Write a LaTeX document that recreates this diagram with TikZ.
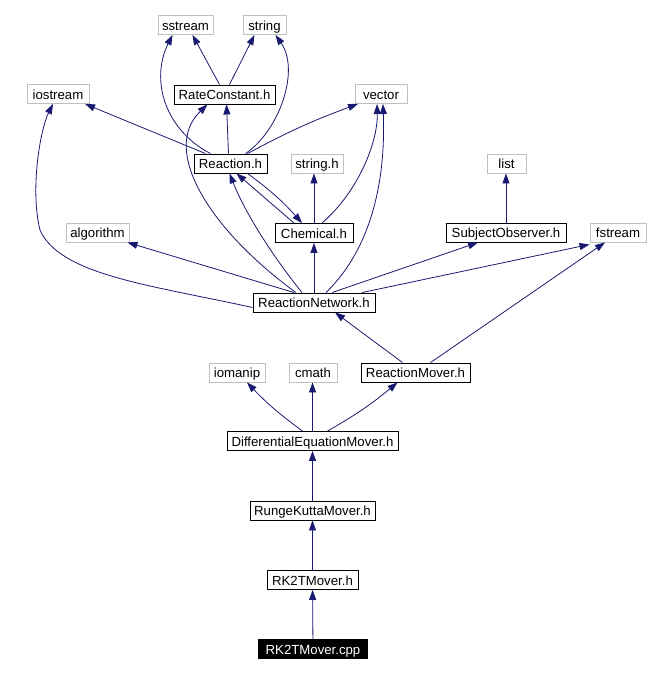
\documentclass[tikz,border=0pt]{standalone}
\usepackage{fontspec}
\setmainfont{Liberation Sans}
\usepackage{xcolor}
\usepackage{tikz}
\usetikzlibrary{arrows,arrows.meta,positioning}

\definecolor{edgeblue}{RGB}{25,25,112}
\definecolor{sysgray}{RGB}{191,191,191}

\begin{document}
\begin{tikzpicture}[x=1pt,y=-1pt,>={Triangle[length=10pt,width=7pt]},
    font=\fontsize{13.2}{15}\selectfont]
  \tikzstyle{header}=[rectangle,draw=black,line width=0.9pt,minimum height=19pt,inner sep=0pt,text height=12pt,text depth=2pt]
  \tikzstyle{syshdr}=[rectangle,draw=sysgray,line width=0.9pt,minimum height=19pt,inner sep=0pt,text height=12pt,text depth=2pt]
  \tikzstyle{source}=[rectangle,fill=black,text=white,minimum height=20pt,inner sep=0pt,text height=12pt,text depth=2pt]
  \tikzstyle{dep}=[->,draw=edgeblue,line width=0.8pt]

  \useasboundingbox (0,0) rectangle (660,673);

  % System headers
  \node [syshdr, minimum width=55pt] (sstream) at (185.5,25) {sstream};
  \node [syshdr, minimum width=43pt] (string) at (264.5,25) {string};
  \node [syshdr, minimum width=62pt] (iostream) at (58,94) {iostream};
  \node [syshdr, minimum width=52pt] (vector) at (381,94) {vector};
  \node [syshdr, minimum width=52pt] (stringh) at (317,163.5) {string.h};
  \node [syshdr, minimum width=39pt] (list) at (506.5,163.5) {list};
  \node [syshdr, minimum width=63pt] (algorithm) at (97.5,232.5) {algorithm};
  \node [syshdr, minimum width=56pt] (fstream) at (618,232.5) {fstream};
  \node [syshdr, minimum width=56pt] (iomanip) at (237,372.5) {iomanip};
  \node [syshdr, minimum width=48pt] (cmath) at (313,372.5) {cmath};

  % Project headers
  \node [header, minimum width=101pt] (rateconst) at (224.5,94.5) {RateConstant.h};
  \node [header, minimum width=73pt] (reaction) at (230.5,163.5) {Reaction.h};
  \node [header, minimum width=78pt] (chemical) at (314,233) {Chemical.h};
  \node [header, minimum width=120pt] (subjobs) at (506,232.5) {SubjectObserver.h};
  \node [header, minimum width=122pt] (network) at (314,302.5) {ReactionNetwork.h};
  \node [header, minimum width=109pt] (mover) at (415.5,372.5) {ReactionMover.h};
  \node [header, minimum width=171pt] (diffeq) at (312.5,441) {DifferentialEquationMover.h};
  \node [header, minimum width=125pt] (runge) at (312.5,510.5) {RungeKuttaMover.h};
  \node [header, minimum width=91pt] (rk2th) at (312.5,580) {RK2TMover.h};
  \node [source, minimum width=110pt] (rk2tcpp) at (313,649) {RK2TMover.cpp};

  % Includes of RateConstant.h and Reaction.h
  \draw [dep] ([xshift=-5pt]rateconst.north) -- ([xshift=7pt]sstream.south);
  \draw [dep] ([xshift=5pt]rateconst.north) -- ([xshift=-10pt]string.south);
  \draw [dep] ([xshift=-20pt]reaction.north) .. controls (165,130) and (150,80) .. ([xshift=-13pt]sstream.south);
  \draw [dep] ([xshift=15pt]reaction.north) .. controls (280,130) and (300,70) .. ([xshift=11pt]string.south);
  \draw [dep] ([xshift=-2pt]reaction.north) -- ([xshift=2pt]rateconst.south);
  \draw [dep] ([xshift=-25pt]reaction.north) -- ([xshift=27pt]iostream.south);
  \draw [dep] ([xshift=17pt]reaction.north) to[bend left=4] ([xshift=-23pt]vector.south);
  \draw [dep] ([xshift=17pt]reaction.south) to[bend left=6] ([xshift=-12pt]chemical.north);

  % Includes of Chemical.h
  \draw [dep] ([xshift=-20pt]chemical.north) -- ([xshift=6pt]reaction.south);
  \draw [dep] (chemical.north) -- (chemical.north |- stringh.south);
  \draw [dep] ([xshift=8pt]chemical.north) .. controls (360,190) and (378,140) .. ([xshift=-4pt]vector.south);

  % Includes of ReactionNetwork.h
  \draw [dep] ([xshift=12pt]network.north) .. controls (380,240) and (385,160) .. ([xshift=2pt]vector.south);
  \draw [dep] (network.north) -- (chemical.south);
  \draw [dep] ([xshift=-12pt]network.north) .. controls (260,240) and (240,200) .. ([xshift=-1pt]reaction.south);
  \draw [dep] ([xshift=-18pt]network.north) .. controls (210,230) and (160,150) .. ([xshift=-17pt]rateconst.south);
  \draw [dep] ([yshift=-5pt]network.west) .. controls (150,285) and (60,275) .. (40,230)
    .. controls (30,190) and (40,130) .. ([xshift=-5pt]iostream.south);
  \draw [dep] ([xshift=-20pt]network.north) -- ([xshift=-2pt]algorithm.south east);
  \draw [dep] ([xshift=18pt]network.north) -- ([xshift=-28pt]subjobs.south);
  \draw [dep] ([xshift=48pt]network.north) -- ([yshift=-2pt]fstream.south west);
  \draw [dep] (subjobs.north) -- (subjobs.north |- list.south);

  % Includes of ReactionMover.h
  \draw [dep] ([xshift=-13pt]mover.north) -- ([xshift=21pt]network.south);
  \draw [dep] ([xshift=15pt]mover.north) -- ([xshift=-13pt]fstream.south);

  % Mover chain
  \draw [dep] ([xshift=-10pt]diffeq.north) to[bend left=5] ([xshift=10pt]iomanip.south);
  \draw [dep] (diffeq.north) -- (diffeq.north |- cmath.south);
  \draw [dep] ([xshift=15pt]diffeq.north) to[bend right=5] ([xshift=-18pt]mover.south);
  \draw [dep] (runge) -- (diffeq);
  \draw [dep] (rk2th) -- (runge);
  \draw [dep] (rk2tcpp) -- (rk2th);
\end{tikzpicture}
\end{document}
